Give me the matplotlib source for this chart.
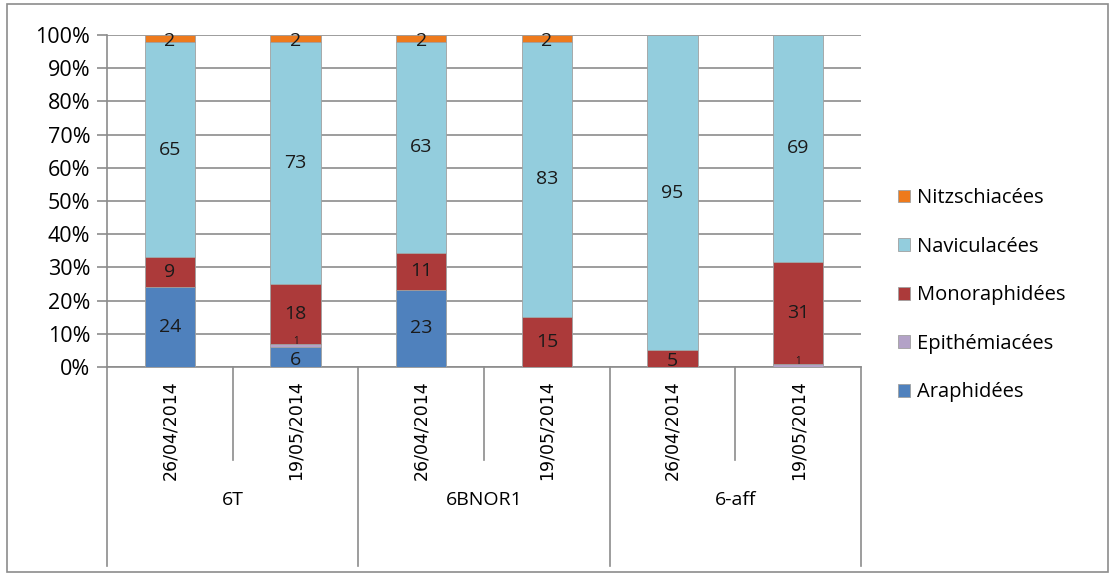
import numpy as np
import matplotlib.pyplot as plt
from matplotlib.patches import Rectangle

dates = ['26/04/2014', '19/05/2014', '26/04/2014', '19/05/2014', '26/04/2014', '19/05/2014']
groups = ['6T', '6BNOR1', '6-aff']

series = ['Araphidées', 'Epithémiacées', 'Monoraphidées', 'Naviculacées', 'Nitzschiacées']
araphidees = [24, 6, 23, 0, 0, 0]
epithemiacees = [0, 1, 0, 0, 0, 1]
monoraphidees = [9, 18, 11, 15, 5, 31]
naviculacees = [65, 73, 63, 83, 95, 69]
nitzschiacees = [2, 2, 2, 2, 0, 0]

colors = ['#4F81BD', '#B3A2C7', '#AC3A3A', '#93CDDD', '#EE7A1C']

values = np.array([araphidees, epithemiacees, monoraphidees, naviculacees, nitzschiacees], dtype=float)
pct = values / values.sum(axis=0) * 100

W, H = 1115, 576
fig = plt.figure(figsize=(W / 100, H / 100), dpi=100)
fig.patches.append(Rectangle((7 / W, 4 / H), (1108 - 7) / W, (572 - 4) / H,
                             transform=fig.transFigure, fill=False,
                             edgecolor='#8c8c8c', linewidth=1.2))

ax = fig.add_axes([107 / W, 1 - 367 / H, (861 - 107) / W, (367 - 35) / H])
x = np.arange(len(dates))
bottom = np.zeros(len(dates))
handles = []
for i, name in enumerate(series):
    b = ax.bar(x, pct[i], 0.4, bottom=bottom, color=colors[i], edgecolor='#a0a0a0',
               linewidth=0.6, label=name, zorder=3)
    handles.append(b)
    for j in range(len(dates)):
        v = values[i, j]
        if v <= 0:
            continue
        yc = bottom[j] + pct[i, j] / 2
        fs = 14
        if v < 2:
            # tiny segments: small label, as in the original
            fs = 7
            yc = bottom[j] + pct[i, j] + 0.8
        elif v < 8:
            yc = bottom[j] + pct[i, j] / 2 - 0.8
        ax.text(x[j], yc, '%d' % v, ha='center', va='center',
                fontsize=fs, family='Open Sans', color='#1a1a1a', zorder=4)
    bottom += pct[i]

ax.set_xlim(-0.5, 5.5)
ax.set_ylim(0, 100)
ax.set_yticks(np.arange(0, 101, 10))
ax.set_yticklabels(['%d%%' % t for t in range(0, 101, 10)], fontsize=15.5, family='Open Sans')
ax.yaxis.grid(True, color='#8c8c8c', linewidth=1.2, zorder=0)
ax.tick_params(axis='y', length=7, color='#8c8c8c', width=1.2, pad=5)
ax.set_xticks([])
for s in ['top', 'right']:
    ax.spines[s].set_visible(False)
for s in ['left', 'bottom']:
    ax.spines[s].set_color('#8c8c8c')
    ax.spines[s].set_linewidth(1.2)

trans = ax.get_xaxis_transform()
for j, d in enumerate(dates):
    ax.text(x[j], -0.04, d, rotation=90, ha='center', va='top', fontsize=12.5,
            family='DejaVu Sans', transform=trans)
for xs in [0.5, 2.5, 4.5]:
    ax.plot([xs, xs], [0, -0.28], color='#8c8c8c', lw=1.2, transform=trans, clip_on=False)
for xs in [-0.5, 1.5, 3.5, 5.5]:
    ax.plot([xs, xs], [0, -0.60], color='#8c8c8c', lw=1.2, transform=trans, clip_on=False)
for k, g in enumerate(groups):
    ax.text(2 * k + 0.5, -0.40, g, ha='center', va='center', fontsize=14, family='Open Sans',
            transform=trans)

leg = fig.legend(handles[::-1], series[::-1], loc='upper left',
                 bbox_to_anchor=(890 / W, 1 - 180 / H), frameon=False,
                 prop={'family': 'Open Sans', 'size': 14.5}, handlelength=0.6, handleheight=0.6,
                 labelspacing=1.42, handletextpad=0.35, borderaxespad=0)

fig.savefig('out.png', dpi=100)
